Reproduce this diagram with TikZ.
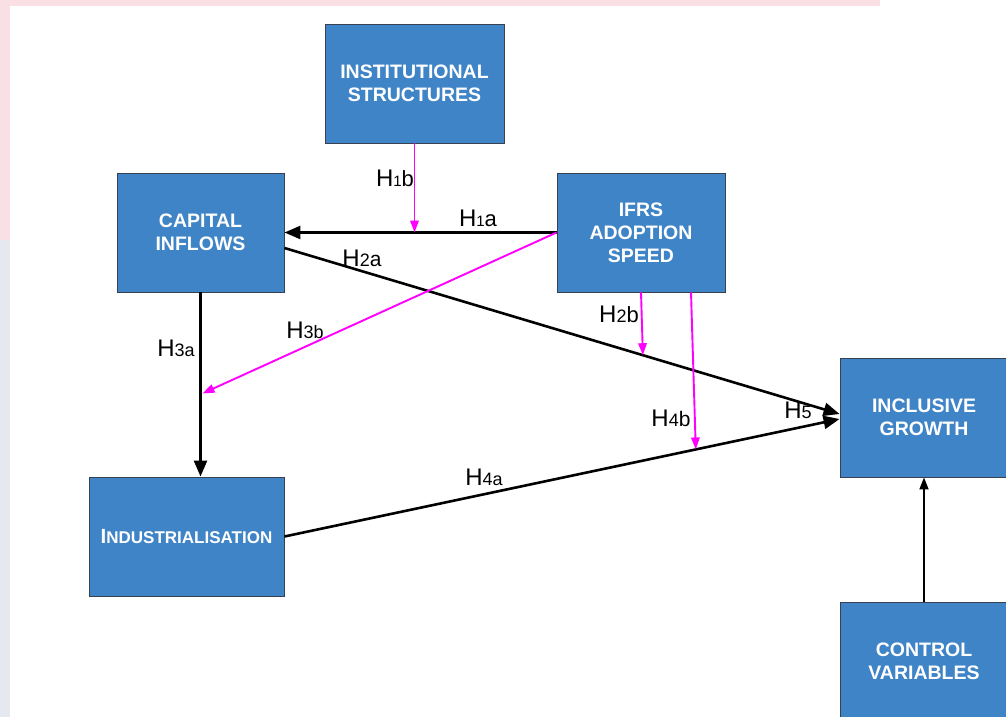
\documentclass[tikz,border=0pt]{standalone}
\usepackage{fontspec}
\setmainfont{Liberation Sans}
\usetikzlibrary{arrows.meta,calc}
\definecolor{boxblue}{RGB}{63,132,198}
\definecolor{boxedge}{RGB}{55,65,80}
\definecolor{mag}{RGB}{255,0,255}
\definecolor{wmpink}{RGB}{250,224,228}
\definecolor{wmgrey}{RGB}{230,232,240}
\newcommand\hyplab[3]{H{\fontsize{#1}{#1}\selectfont #2}#3}
\begin{document}
\begin{tikzpicture}[x=1pt,y=-1pt,
 box/.style={draw=boxedge, line width=0.9pt, fill=boxblue, minimum width=168pt, minimum height=119pt,
   text=white, font=\fontsize{19.5}{23}\selectfont\bfseries, align=center, inner sep=0pt},
 mainarrow/.style={line width=2.6pt, -{Triangle[length=16pt,width=13pt]}},
 modarrow/.style={draw=mag, line width=1.9pt, -{Triangle[length=12pt,width=8.5pt]}, mag},
 ctrlarrow/.style={line width=1.8pt, -{Triangle[length=12pt,width=9pt]}},
 hlab/.style={font=\fontsize{24}{24}\selectfont, inner sep=0pt, anchor=center}]
\useasboundingbox (0,0) rectangle (1006,717);
\clip (0,0) rectangle (1006,717);
% faint watermark edges
\fill[wmpink] (0,0) rectangle (880,6);
\fill[wmpink] (0,0) rectangle (10,240);
\fill[wmgrey] (0,240) rectangle (10,717);

% boxes
\node[box, minimum width=179pt] (inst) at (414.5,83.5) {INSTITUTIONAL\\STRUCTURES};
\node[box, minimum width=167pt] (cap) at (200.5,232.5) {CAPITAL\\INFLOWS};
\node[box] (ifrs) at (641,232.5) {IFRS\\ADOPTION\\SPEED};
\node[box, minimum width=195pt] (ind) at (186.5,536.5)
  {{\fontsize{20.5}{20}\selectfont I}{\fontsize{17}{20}\selectfont NDUSTRIALISATION}};
\node[box] (ig) at (924,417.5) {INCLUSIVE\\GROWTH};
\node[box] (ctrl) at (924,661.5) {CONTROL\\VARIABLES};

% helper coordinates
\coordinate (a2s) at ([yshift=-15.5pt]cap.east);
\coordinate (a2e) at ([yshift=3.5pt]ig.west);
\coordinate (a4e) at ([yshift=-1.5pt]ig.west);
\coordinate (h2b) at ($(a2s)!0.6457!(a2e)$);
\coordinate (h4b) at ($(ind.east)!0.741!(a4e)$);
\coordinate (h1b) at (inst.south |- cap.east);
\coordinate (h3a) at ($(cap.south)+(0,101)$);
\coordinate (h3bend) at ($(h3a)+(2,0)$);

% main paths
\draw[mainarrow] (ifrs.west) -- (cap.east);
\draw[mainarrow] (a2s) -- (a2e);
\draw[mainarrow] (cap.south) -- (cap.south |- ind.north);
\draw[mainarrow] (ind.east) -- (a4e);
\draw[ctrlarrow] (ctrl.north) -- (ig.south);

% moderating paths
\draw[modarrow] (inst.south) -- (h1b);
\draw[modarrow] (ifrs.south) -- (h2b);
\draw[modarrow] (ifrs.west) -- (h3bend);
\draw[modarrow] ([xshift=50pt]ifrs.south) -- (h4b);

% labels
\node[hlab] (l1b) at (395,178) {\hyplab{15}{1}{\fontsize{22}{22}\selectfont b}};
\node[hlab] (l1a) at (478,218) {\hyplab{15}{1}{\fontsize{22}{22}\selectfont a}};
\node[hlab] (l2a) at (362,258) {\hyplab{18}{2}{\fontsize{21}{21}\selectfont a}};
\node[hlab] (l2b) at (619,314) {\hyplab{18}{2}{\fontsize{22}{22}\selectfont b}};
\node[hlab] (l3a) at (176,348) {\hyplab{18}{3a}{}};
\node[hlab] (l3b) at (305,330) {\hyplab{18}{3b}{}};
\node[hlab] (l4a) at (484,477) {\hyplab{18}{4a}{}};
\node[hlab] (l4b) at (671,418) {\hyplab{18}{4}{\fontsize{21}{21}\selectfont b}};
\node[hlab] (l5) at (798,410) {\hyplab{18}{5}{}};
\end{tikzpicture}
\end{document}
